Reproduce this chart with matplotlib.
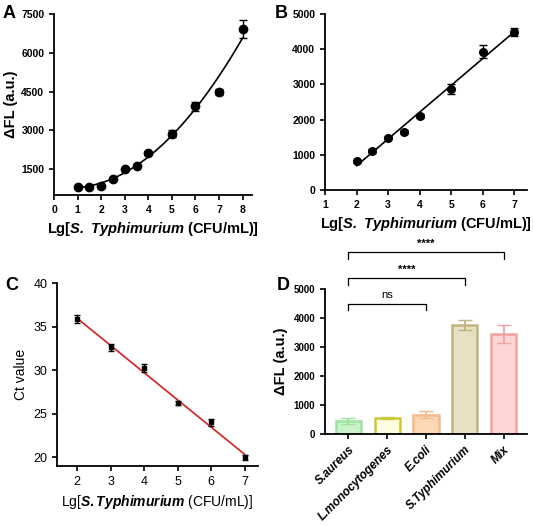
import matplotlib.pyplot as plt
import numpy as np

plt.rcParams["font.family"] = ["Liberation Sans", "DejaVu Sans"]
plt.rcParams["font.weight"] = "bold"
plt.rcParams["mathtext.fontset"] = "custom"
plt.rcParams["mathtext.bf"] = "Liberation Sans:bold:italic"
plt.rcParams["mathtext.it"] = "Liberation Sans:italic"
plt.rcParams["mathtext.rm"] = "Liberation Sans"

a_x = [1, 1.5, 2, 2.5, 3, 3.5, 4, 5, 6, 7, 8]
a_y = [800, 820, 830, 1130, 1500, 1640, 2110, 2870, 3930, 4490, 6920]
a_err = [40, 40, 40, 50, 50, 60, 60, 130, 180, 120, 350]

b_x = [2, 2.5, 3, 3.5, 4, 5, 6, 7]
b_y = [820, 1110, 1490, 1640, 2110, 2870, 3930, 4490]
b_err = [40, 50, 50, 60, 60, 130, 180, 120]

c_x = [2, 3, 4, 5, 6, 7]
c_y = [35.9, 32.6, 30.2, 26.2, 24.0, 20.0]
c_err = [0.45, 0.4, 0.45, 0.25, 0.4, 0.3]

d_labels = ["S.aureus", "L.monocytogenes", "E.coli", "S.Typhimurium", "Mix"]
d_y = [450, 560, 670, 3750, 3450]
d_err = [110, 40, 110, 170, 300]
d_face = ["#c9f2c9", "#fdfde0", "#fcd8b6", "#e7e0c2", "#fcd6d6"]
d_edge = ["#9ee39e", "#c8c83a", "#f5ba88", "#c2b27f", "#f0a3a3"]

W, H = 533, 526
fig = plt.figure(figsize=(W / 100, H / 100), dpi=100)


def add_ax(l, t, r, b):
    ax = fig.add_axes([l / W, 1 - b / H, (r - l) / W, (b - t) / H])
    for s in ("top", "right"):
        ax.spines[s].set_visible(False)
    for s in ("left", "bottom"):
        ax.spines[s].set_linewidth(1.3)
    ax.tick_params(labelsize=7.5, width=1.2, length=3.5)
    return ax


xlab = r"Lg[$\mathbf{S.\ Typhimurium}$ (CFU/mL)]"

# A
ax = add_ax(54, 14, 252, 195)
xs = np.linspace(1.2, 8, 100)
q = np.polyfit(a_x, a_y, 2)
ax.plot(xs, np.polyval(q, xs), color="black", lw=1.2)
ax.errorbar(a_x, a_y, yerr=a_err, fmt="o", color="black", ms=6, capsize=3, elinewidth=1)
ax.set_xlim(0, 8.4)
ax.set_ylim(500, 7500)
ax.set_xticks(range(9))
ax.set_yticks([1500, 3000, 4500, 6000, 7500])
ax.set_ylabel("ΔFL (a.u.)", fontsize=10.5, fontweight="bold", labelpad=2)
ax.set_xlabel(xlab, fontsize=10.5, fontweight="bold")
fig.text(3 / W, 1 - 14 / H, "A", fontsize=13, fontweight="bold", va="center")

# B
ax = add_ax(325, 14, 527, 190)
m, c = np.polyfit(b_x, b_y, 1)
xs = np.linspace(2, 7, 50)
ax.plot(xs, m * xs + c, color="black", lw=1.2)
ax.errorbar(b_x, b_y, yerr=b_err, fmt="o", color="black", ms=5.5, capsize=3, elinewidth=1)
ax.set_xlim(1, 7.4)
ax.set_ylim(0, 5000)
ax.set_xticks(range(1, 8))
ax.set_yticks(range(0, 5001, 1000))
ax.set_xlabel(xlab, fontsize=10.5, fontweight="bold")
fig.text(275 / W, 1 - 14 / H, "B", fontsize=13, fontweight="bold", va="center")

# C
ax = add_ax(57, 283, 258, 466)
m, c = np.polyfit(c_x, c_y, 1)
xs = np.linspace(2, 7, 50)
ax.plot(xs, m * xs + c, color="#d42020", lw=1.2)
ax.errorbar(c_x, c_y, yerr=c_err, fmt="s", color="black", ms=3.5, capsize=2.5, elinewidth=1)
ax.set_xlim(1.4, 7.4)
ax.set_ylim(19, 40)
ax.set_xticks(range(2, 8))
ax.set_yticks([20, 25, 30, 35, 40])
ax.tick_params(labelsize=9)
ax.set_ylabel("Ct value", fontsize=10)
ax.set_xlabel(r"Lg[$\mathit{S.Typhimurium}$ (CFU/mL)]", fontsize=10)
for t in ax.get_xticklabels() + ax.get_yticklabels():
    t.set_fontweight("normal")
ax.yaxis.label.set_fontweight("normal")
ax.xaxis.label.set_fontweight("normal")
fig.text(5 / W, 1 - 285 / H, "C", fontsize=13, fontweight="bold", va="center")

# D
ax = add_ax(325, 289, 527, 434)
xpos = np.arange(len(d_labels))
ax.bar(xpos, d_y, width=0.65, color=d_face, edgecolor=d_edge, linewidth=1.8)
for i in xpos:
    ax.errorbar(i, d_y[i], yerr=d_err[i], color=d_edge[i], capsize=5, elinewidth=1.3)
ax.set_xlim(-0.6, 4.6)
ax.set_ylim(0, 5000)
ax.set_yticks(range(0, 5001, 1000))
ax.set_xticks(xpos)
ax.set_xticklabels(d_labels, rotation=45, ha="right", rotation_mode="anchor",
                   fontstyle="italic", fontsize=8.5)
ax.tick_params(axis="y", labelsize=7)
ax.set_ylabel("ΔFL (a.u.)", fontsize=10.5, fontweight="bold")


def bracket(x0, x1, y, h, text):
    ax.plot([x0, x0, x1, x1], [y - h, y, y, y - h], color="black", lw=0.9, clip_on=False)
    ax.text((x0 + x1) / 2, y + 120, text, ha="center", va="bottom", fontsize=8,
            fontweight="normal" if text == "ns" else "bold")


bracket(0, 2, 4500, 230, "ns")
bracket(0, 3, 5370, 230, "****")
bracket(0, 4, 6270, 230, "****")
fig.text(277 / W, 1 - 285 / H, "D", fontsize=13, fontweight="bold", va="center")

fig.savefig("out.png", dpi=100)
